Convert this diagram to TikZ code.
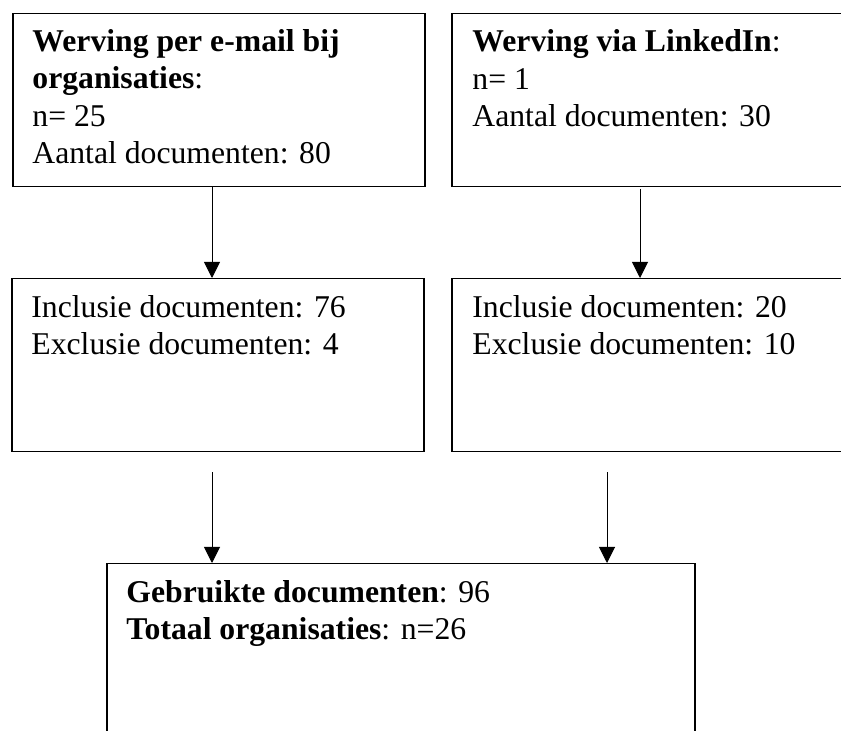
\documentclass[tikz,border=0pt]{standalone}
\usepackage{fontspec}
\setmainfont{Liberation Serif}
\usetikzlibrary{arrows.meta}

\tikzset{
  box/.style={draw, line width=0.75pt, inner sep=0pt, anchor=north west},
  boxtext/.style={anchor=base west, align=left, inner sep=0pt,
    font=\fontsize{15.85}{18.65}\selectfont},
  pijl/.style={-{Triangle[length=8pt,width=8pt]}, line width=0.5pt},
}

\begin{document}
\begin{tikzpicture}[x=0.5pt,y=-0.5pt]
            \clip (0,0) rectangle (841,731);
            %% upper boxes (text placed at baseline of last line)
            \node[box, minimum width=206pt, minimum height=86.5pt] (email) at (12,13) {};
            \node[box, minimum width=210pt, minimum height=86.5pt] (linkedin) at (451,13) {};
            \node[boxtext] (email-tekst) at (32,163.5) {\textbf{Werving per e-mail bij}\\\textbf{organisaties}:\\n= 25\\Aantal documenten: 80};
            \node[boxtext] (linkedin-tekst) at (472,126.5) {\textbf{Werving via LinkedIn}:\\n= 1\\Aantal documenten: 30};
            % middle boxes
            \node[box, minimum width=206pt, minimum height=86.5pt] (inclusie-email) at (11,278) {};
            \node[box, minimum width=210pt, minimum height=86.5pt] (inclusie-linkedin) at (451,278) {};
            \node[boxtext] (inclusie-email-tekst) at (31,355) {Inclusie documenten: 76\\Exclusie documenten: 4};
            \node[boxtext] (inclusie-linkedin-tekst) at (472,355) {Inclusie documenten: 20\\Exclusie documenten: 10};
            % lower box
            \node[box, minimum width=294pt, minimum height=100pt] (totaal) at (106,563) {};
            \node[boxtext] (totaal-tekst) at (126,639.5) {\textbf{Gebruikte documenten}: 96\\\textbf{Totaal organisaties}: n=26};
            %% arrows
            \coordinate (links) at (212,0);
            \coordinate (rechts) at (640,0);
            \coordinate (midden) at (607,0);
            \draw[pijl] (email.south -| links) -- (inclusie-email.north -| links);
            \draw[pijl, shorten <=1pt] (linkedin.south -| rechts) -- (inclusie-linkedin.north -| rechts);
            \draw[pijl, shorten <=10pt] (inclusie-email.south -| links) -- (totaal.north -| links);
            \draw[pijl, shorten <=10pt] (inclusie-linkedin.south -| midden) -- (totaal.north -| midden);
        \end{tikzpicture}
\end{document}
